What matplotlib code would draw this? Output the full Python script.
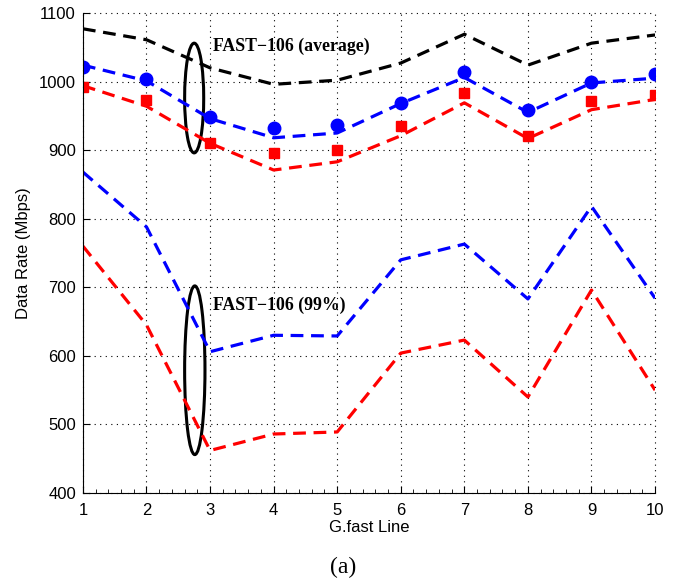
import numpy as np
import matplotlib
matplotlib.use('Agg')
import matplotlib.pyplot as plt
from matplotlib.patches import Ellipse

# data
lines = [1, 2, 3, 4, 5, 6, 7, 8, 9, 10]
avg_black = [1077, 1061, 1020, 996, 1002, 1027, 1069, 1024, 1056, 1068]
avg_blue_line = [1024, 1001, 946, 918, 925, 968, 1006, 955, 998, 1005]
avg_blue_pts = [1021, 1004, 948, 932, 937, 969, 1014, 958, 1000, 1011]
avg_red_line = [994, 964, 910, 871, 883, 921, 969, 917, 959, 974]
avg_red_pts = [992, 973, 910, 896, 900, 935, 984, 921, 972, 981]
p99_blue = [868, 788, 606, 630, 629, 740, 763, 683, 818, 684]
p99_red = [760, 645, 462, 486, 489, 604, 623, 540, 696, 550]

plt.rcParams['font.family'] = ['Liberation Sans', 'DejaVu Sans']
fig = plt.figure(figsize=(6.91, 5.83), dpi=100)
ax = fig.add_axes([0.120, 0.1544, 0.828, 0.8233])

dash = (4, 2.4)
lw = 2.3
ax.plot(lines, avg_black, color='black', lw=lw, dashes=dash)
ax.plot(lines, avg_blue_line, color='blue', lw=lw, dashes=dash)
ax.plot(lines, avg_red_line, color='red', lw=lw, dashes=dash)
ax.plot(lines, avg_blue_pts, 'o', color='blue', ms=9, mec='blue')
ax.plot(lines, avg_red_pts, 's', color='red', ms=7.5, mec='red')
ax.plot(lines, p99_blue, color='blue', lw=lw, dashes=dash)
ax.plot(lines, p99_red, color='red', lw=lw, dashes=dash)

ax.add_patch(Ellipse((2.75, 976), 0.30, 160, fill=False, ec='black', lw=2.2))
ax.add_patch(Ellipse((2.76, 579), 0.32, 246, fill=False, ec='black', lw=2.2))

ax.text(3.04, 1051, 'FAST\u2212106 (average)', family='Liberation Serif',
        fontweight='bold', fontsize=12.8, va='center', ha='left')
ax.text(3.04, 674, 'FAST\u2212106 (99%)', family='Liberation Serif',
        fontweight='bold', fontsize=12.8, va='center', ha='left')

ax.set_xlim(1, 10)
ax.set_ylim(400, 1100)
ax.set_xticks(lines)
ax.set_xticks(np.arange(1, 10.01, 0.2), minor=True)
ax.set_yticks(np.arange(400, 1101, 100))
ax.grid(True, linestyle=(0, (1, 4)), color='black', lw=0.8, clip_on=False)
ax.tick_params(direction='in', labelsize=12, length=5)
ax.tick_params(axis='x', which='minor', direction='in', length=3)
ax.tick_params(axis='x', pad=7)
ax.tick_params(axis='y', pad=5)
ax.spines['top'].set_visible(False)
ax.spines['right'].set_visible(False)
ax.set_xlabel('G.fast Line', fontsize=12, labelpad=2)
ax.set_ylabel('Data Rate (Mbps)', fontsize=12, labelpad=6)

fig.text(0.497, 0.026, '(a)', family='Liberation Serif', fontsize=17,
         ha='center', va='center')

fig.savefig('out.png', dpi=100)
